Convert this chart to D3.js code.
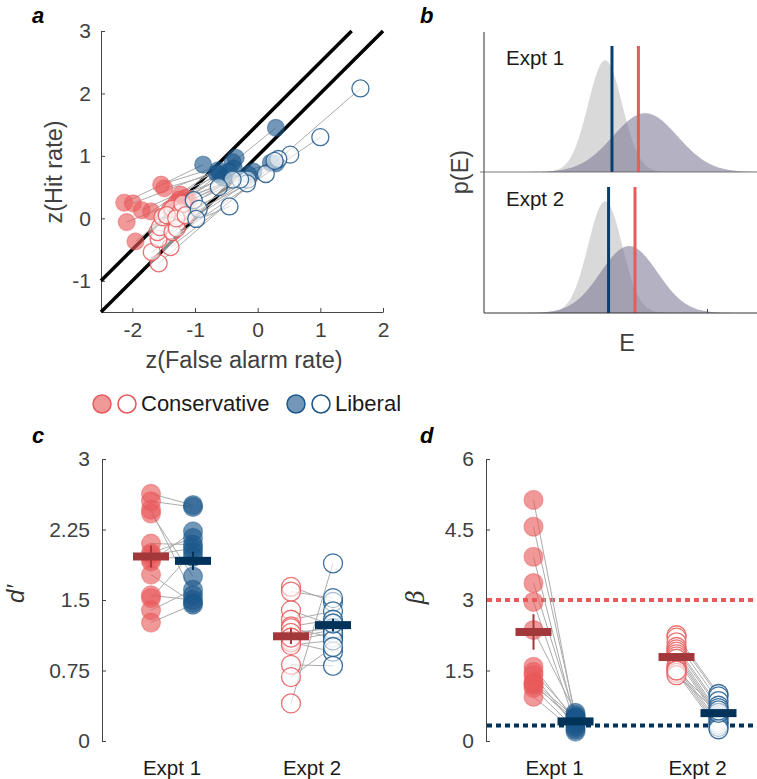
<!DOCTYPE html>
<html>
<head>
<meta charset="utf-8">
<script src="https://cdn.jsdelivr.net/npm/d3@7"></script>
<style>
  body { margin: 0; background: #fff; }
  svg { display: block; font-family: "Liberation Sans", Arial, Helvetica, sans-serif; }
  .axis path, .axis line { stroke: #444; stroke-width: 1; }
  .axis text { fill: #404040; font-size: 21px; font-family: "Liberation Sans", Arial, sans-serif; }
  .lbl { fill: #404040; font-size: 23.5px; }
  .tag { fill: #000; font-size: 22px; font-weight: bold; font-style: italic; }
</style>
</head>
<body>
<svg id="fig" width="757" height="779"></svg>
<script>
// ---- data ----
var expts = ['Expt 1', 'Expt 2'];

// panel a: z(false alarm), z(hit) per subject
var e1ConsFA = [-2.13, -1.99, -1.85, -1.70, -1.54, -1.49, -2.09, -1.95, -1.23, -1.15, -1.30, -1.40, -1.25, -1.10];
var e1ConsH  = [ 0.25,  0.24,  0.13,  0.11,  0.54,  0.48, -0.06, -0.37,  0.38,  0.33,  0.25,  0.15,  0.30,  0.28];
var e1LibFA  = [-0.87, -0.63, -0.60, -0.35, -0.40, -0.38, -0.07,  0.29,  0.21,  0.29, -0.65, -0.45, -0.55, -0.15];
var e1LibH   = [ 0.86,  0.77,  0.70,  0.97,  0.90,  0.80,  0.75,  1.45,  0.89,  0.88,  0.72,  0.75,  0.65,  0.70];
var e2ConsFA = [-1.58, -1.69, -1.39, -1.58, -1.60, -1.56, -1.36, -1.52, -1.36, -1.23, -1.29, -1.20, -1.45, -1.30, -1.15];
var e2ConsH  = [-0.72, -0.54, -0.46, -0.33, -0.22, -0.14, -0.22,  0.02,  0.15,  0.10, -0.16,  0.23,  0.05,  0.00,  0.05];
var e2LibFA  = [ 1.64,  1.00,  0.52,  0.33,  0.13, -0.16, -0.17, -0.28, -0.40, -0.62, -0.45, -1.02, -0.94, -0.98,  0.27];
var e2LibH   = [ 2.08,  1.30,  1.02,  0.95,  0.71,  0.62,  0.56,  0.62,  0.62,  0.50,  0.19,  0.29,  0.15, -0.01,  0.92];
var zTicksX = [-2, -1, 0, 1, 2];
var zTicksY = [-1, 0, 1, 2, 3];
var isoIntercepts = [1.5, 1.0];   // unit-slope reference lines

// panel b: schematic noise / signal distributions and criteria
var noiseMean  = [0, 0];
var noiseSd    = [1, 1];
var signalMean = [2.35, 1.4];
var signalSd   = [1.9, 1.67];
var critLib    = [0.4, 0.2];
var critCons   = [1.95, 1.75];
var eTicks     = [6];

// panel c: d'
var dprE1Cons = [2.63, 2.55, 2.46, 2.42, 2.10, 1.98, 1.91, 1.77, 1.55, 1.52, 1.39, 1.26, 1.94, 2.00];
var dprE1Lib  = [2.51, 2.49, 1.55, 1.75, 2.09, 2.05, 2.23, 1.47, 1.50, 2.01, 1.61, 1.45, 1.96, 2.16];
var dprE2Cons = [1.64, 1.59, 1.39, 1.29, 1.22, 1.20, 1.15, 1.10, 1.07, 1.05, 1.02, 0.81, 0.68, 0.40, 1.10];
var dprE2Lib  = [1.48, 1.52, 1.23, 1.38, 1.29, 1.10, 1.20, 1.18, 1.15, 0.95, 1.07, 0.80, 1.00, 1.89, 1.25];
var dprTicks = [0, 0.75, 1.5, 2.25, 3];

// panel d: beta
var betaE1Cons = [5.13, 4.56, 3.92, 3.36, 2.96, 2.36, 1.58, 1.47, 1.40, 1.23, 1.13, 0.94, 1.25, 1.19];
var betaE1Lib  = [0.45, 0.55, 0.40, 0.50, 0.35, 0.60, 0.42, 0.48, 0.30, 0.38, 0.25, 0.20, 0.50, 0.45];
var betaE2Cons = [2.25, 2.20, 2.10, 2.00, 1.95, 1.90, 1.85, 1.80, 1.75, 1.60, 1.55, 1.50, 1.45, 1.40, 1.50];
var betaE2Lib  = [1.00, 0.95, 0.85, 0.75, 0.70, 0.60, 0.55, 0.50, 0.45, 0.40, 0.35, 0.30, 0.25, 0.60, 0.65];
var betaTicks = [0, 1.5, 3, 4.5, 6];
var betaRef = [3, 0.33];   // red / blue dotted reference levels

// ---- styles ----
var RED = '#e8595b', BLUE = '#1b578b', RED_DARK = '#a3383b', NAVY = '#00325a';
var LINE_BLUE = '#07406f', LINE_RED = '#ea5a5b';

var svg = d3.select('#fig');
var plain = function (d) { return String(d); };

function tag(x, y, t) {
  svg.append('text').attr('class', 'tag').attr('x', x).attr('y', y).text(t);
}
function dot(g, cx, cy, r, color, filled) {
  var c = g.append('circle').attr('cx', cx).attr('cy', cy).attr('r', r);
  if (filled) {
    c.attr('fill', color).attr('fill-opacity', 0.62)
     .attr('stroke', color).attr('stroke-opacity', 0.45).attr('stroke-width', 1.2);
  } else {
    c.attr('fill', '#fff').attr('fill-opacity', 0.55)
     .attr('stroke', color).attr('stroke-opacity', 0.85).attr('stroke-width', 1.3);
  }
  return c;
}

// ===== panel a =====
(function () {
  var x = d3.scaleLinear().domain([-2.5, 2]).range([101, 383]);
  var y = d3.scaleLinear().domain([-1.5, 3]).range([312, 31]);
  var g = svg.append('g');

  g.append('g').attr('class', 'axis').attr('transform', 'translate(0,' + y(-1.5) + ')')
    .call(d3.axisBottom(x).tickValues(zTicksX).tickSizeInner(-4).tickSizeOuter(0).tickPadding(10).tickFormat(plain));
  g.append('g').attr('class', 'axis').attr('transform', 'translate(' + x(-2.5) + ',0)')
    .call(d3.axisLeft(y).tickValues(zTicksY).tickSizeInner(-4).tickSizeOuter(0).tickPadding(10).tickFormat(plain));

  isoIntercepts.forEach(function (b) {
    var x1 = Math.min(2, 3 - b);
    g.append('line').attr('x1', x(-2.5)).attr('y1', y(-2.5 + b)).attr('x2', x(x1)).attr('y2', y(x1 + b))
      .attr('stroke', '#000').attr('stroke-width', 3.5);
  });

  var sets = [
    { cfa: e1ConsFA, ch: e1ConsH, lfa: e1LibFA, lh: e1LibH, filled: true },
    { cfa: e2ConsFA, ch: e2ConsH, lfa: e2LibFA, lh: e2LibH, filled: false }
  ];
  sets.forEach(function (s) {
    s.cfa.forEach(function (v, i) {
      g.append('line').attr('x1', x(v)).attr('y1', y(s.ch[i])).attr('x2', x(s.lfa[i])).attr('y2', y(s.lh[i]))
        .attr('stroke', '#ababab').attr('stroke-width', 1);
    });
  });
  sets.forEach(function (s) {
    s.cfa.forEach(function (v, i) { dot(g, x(v), y(s.ch[i]), 8.5, RED, s.filled); });
    s.lfa.forEach(function (v, i) { dot(g, x(v), y(s.lh[i]), 8.5, BLUE, s.filled); });
  });

  g.append('text').attr('class', 'lbl').attr('x', 244).attr('y', 368).attr('text-anchor', 'middle')
    .text('z(False alarm rate)');
  g.append('text').attr('class', 'lbl').attr('transform', 'translate(62,172) rotate(-90)')
    .attr('text-anchor', 'middle').text('z(Hit rate)');
  tag(32, 23, 'a');
})();

// ===== panel b =====
(function () {
  var x = d3.scaleLinear().domain([-7.1, 8.9]).range([484, 757]);
  var g = svg.append('g');
  var baselines = [172, 313];
  var grid = d3.range(-7.1, 8.95, 0.05);
  function pdf(e, m, s) { return Math.exp(-0.5 * Math.pow((e - m) / s, 2)) / (s * Math.sqrt(2 * Math.PI)); }

  expts.forEach(function (name, k) {
    var y = d3.scaleLinear().domain([0, 0.5]).range([baselines[k], baselines[k] - 140]);
    var area = function (m, s) {
      return d3.area().x(function (e) { return x(e); }).y0(y(0))
        .y1(function (e) { return y(pdf(e, m, s)); }).curve(d3.curveBasis)(grid);
    };
    g.append('path').attr('d', area(noiseMean[k], noiseSd[k])).attr('fill', '#d9d9d9');
    g.append('path').attr('d', area(signalMean[k], signalSd[k])).attr('fill', '#76718f').attr('fill-opacity', 0.55);
    g.append('line').attr('x1', x(critLib[k])).attr('x2', x(critLib[k])).attr('y1', y(0)).attr('y2', y(0.45))
      .attr('stroke', LINE_BLUE).attr('stroke-width', 3);
    g.append('line').attr('x1', x(critCons[k])).attr('x2', x(critCons[k])).attr('y1', y(0)).attr('y2', y(0.45))
      .attr('stroke', LINE_RED).attr('stroke-width', 3);
    g.append('text').attr('x', 506).attr('y', baselines[k] - 107).attr('font-size', 20.5).attr('fill', '#1a1a1a')
      .text(name);
  });

  // axes
  g.append('line').attr('x1', 484).attr('x2', 484).attr('y1', 32).attr('y2', 313).attr('stroke', '#333');
  g.append('line').attr('x1', 484).attr('x2', 757).attr('y1', 313).attr('y2', 313).attr('stroke', '#333');
  g.append('line').attr('x1', 480).attr('x2', 757).attr('y1', 172).attr('y2', 172).attr('stroke', '#555').attr('stroke-width', 0.8);
  eTicks.forEach(function (t) {
    g.append('line').attr('x1', x(t)).attr('x2', x(t)).attr('y1', 313).attr('y2', 309).attr('stroke', '#444');
  });
  g.append('text').attr('class', 'lbl').attr('x', 627).attr('y', 351).attr('text-anchor', 'middle').text('E');
  g.append('text').attr('class', 'lbl').attr('transform', 'translate(468,172) rotate(-90)')
    .attr('text-anchor', 'middle').text('p(E)');
  tag(420, 23, 'b');
})();

// ===== legend =====
(function () {
  var g = svg.append('g');
  var items = [
    { label: 'Conservative', color: RED, x: 102 },
    { label: 'Liberal', color: BLUE, x: 296 }
  ];
  items.forEach(function (it) {
    dot(g, it.x, 404, 9, it.color, true).attr('stroke-opacity', 1).attr('stroke-width', 1.5);
    dot(g, it.x + 25, 404, 9, it.color, false).attr('stroke-opacity', 1).attr('stroke-width', 1.6);
    g.append('text').attr('x', it.x + 39).attr('y', 411).attr('font-size', 22).attr('fill', '#1a1a1a').text(it.label);
  });
})();

// ===== panels c / d =====
function pairedPanel(opts) {
  var g = svg.append('g');
  var x = d3.scaleLinear().domain([1, 2]).range(opts.cats);
  var y = d3.scaleLinear().domain(opts.domain).range([741, 459]);
  var off = 21;

  g.append('g').attr('class', 'axis').attr('transform', 'translate(' + opts.axisX + ',0)')
    .call(d3.axisLeft(y).tickValues(opts.ticks).tickSizeInner(-4).tickSizeOuter(0).tickPadding(12).tickFormat(plain));

  if (opts.refs) opts.refs.forEach(function (r) {
    g.append('line').attr('x1', opts.axisX + 1).attr('x2', 757).attr('y1', y(r.v)).attr('y2', y(r.v))
      .attr('stroke', r.color).attr('stroke-width', 4).attr('stroke-dasharray', '5,4');
  });

  opts.sets.forEach(function (s, k) {
    var cx = x(k + 1);
    s.cons.forEach(function (v, i) {
      g.append('line').attr('x1', cx - off).attr('y1', y(v)).attr('x2', cx + off).attr('y2', y(s.lib[i]))
        .attr('stroke', '#ababab').attr('stroke-width', 1);
    });
  });
  opts.sets.forEach(function (s, k) {
    var cx = x(k + 1);
    var filled = k === 0;
    s.cons.forEach(function (v) { dot(g, cx - off, y(v), 9.5, RED, filled); });
    s.lib.forEach(function (v) { dot(g, cx + off, y(v), 9.5, BLUE, filled); });
  });
  opts.sets.forEach(function (s, k) {
    var cx = x(k + 1);
    [[s.cons, -off, RED_DARK], [s.lib, off, NAVY]].forEach(function (d) {
      var m = d3.mean(d[0]);
      var se = d3.deviation(d[0]) / Math.sqrt(d[0].length);
      g.append('line').attr('x1', cx + d[1]).attr('x2', cx + d[1]).attr('y1', y(m - se)).attr('y2', y(m + se))
        .attr('stroke', d[2]).attr('stroke-width', 2);
      g.append('rect').attr('x', cx + d[1] - 18).attr('y', y(m) - 4).attr('width', 36).attr('height', 8)
        .attr('fill', d[2]);
    });
    g.append('text').attr('x', cx).attr('y', 775).attr('text-anchor', 'middle').attr('font-size', 20.5)
      .attr('fill', '#1a1a1a').text(expts[k]);
  });

  g.append('text').attr('transform', 'translate(' + opts.labelX + ',' + opts.labelY + ') rotate(-90)')
    .attr('text-anchor', 'middle').attr('font-size', 24).attr('font-style', 'italic').attr('fill', '#333')
    .attr('font-family', opts.labelFont || null)
    .text(opts.label);
  tag(opts.tagX, 443, opts.tag);
}

pairedPanel({
  cats: [172, 312], axisX: 102, domain: [0, 3], ticks: dprTicks,
  sets: [{ cons: dprE1Cons, lib: dprE1Lib }, { cons: dprE2Cons, lib: dprE2Lib }],
  label: 'd\u2032', labelX: 24, labelY: 594, tag: 'c', tagX: 32
});
pairedPanel({
  cats: [554.5, 697.5], axisX: 486, domain: [0, 6], ticks: betaTicks,
  refs: [{ v: betaRef[0], color: LINE_RED }, { v: betaRef[1], color: NAVY }],
  sets: [{ cons: betaE1Cons, lib: betaE1Lib }, { cons: betaE2Cons, lib: betaE2Lib }],
  label: '\u03b2', labelX: 424, labelY: 597, tag: 'd', tagX: 420, labelFont: '"DejaVu Serif", serif'
});
</script>
</body>
</html>
